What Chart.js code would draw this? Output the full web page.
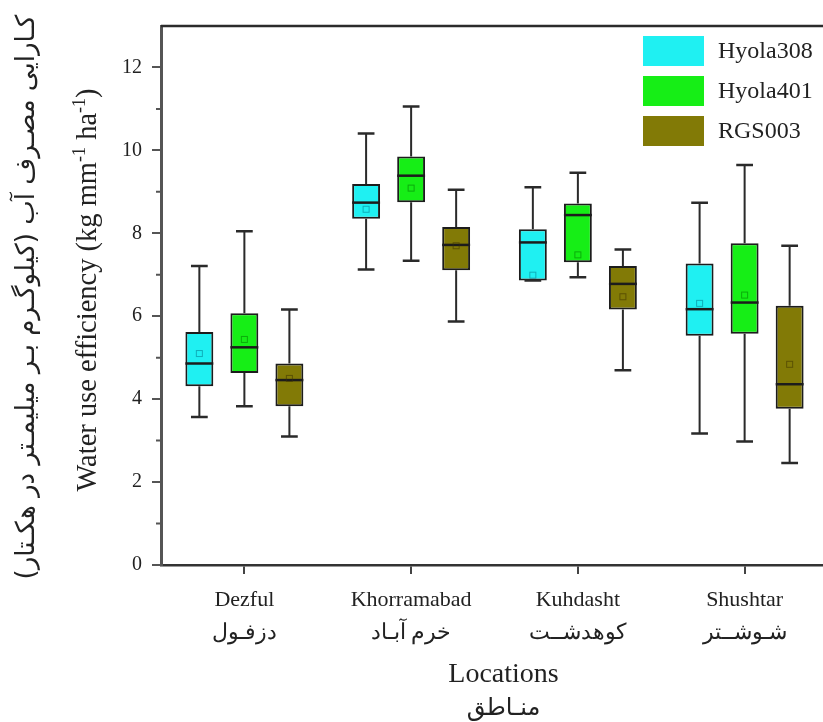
<!DOCTYPE html>
<html>
<head>
<meta charset="utf-8">
<script src="https://cdn.jsdelivr.net/npm/chart.js@4/dist/chart.umd.min.js"></script>
<style>
  html, body { margin: 0; padding: 0; background: #fff; overflow: hidden; }
  #wrap { position: relative; width: 828px; height: 722px; }
</style>
</head>
<body>
<div id="wrap"><canvas id="c"></canvas></div>
<script>
// ---------- data ----------
const categories = ['Dezful', 'Khorramabad', 'Kuhdasht', 'Shushtar'];
const categoriesFa = ['دزفـول', 'خرم آبـاد', 'کوهدشــت', 'شـوشــتر'];
const seriesNames = ['Hyola308', 'Hyola401', 'RGS003'];
const yTicks = [0, 2, 4, 6, 8, 10, 12];
const yMinorTicks = [1, 3, 5, 7, 9, 11];

const hyola308Min    = [3.57, 7.13, 6.86, 3.17];
const hyola308Q1     = [4.31, 8.35, 6.86, 5.53];
const hyola308Median = [4.86, 8.74, 7.78, 6.17];
const hyola308Q3     = [5.62, 9.19, 8.10, 7.27];
const hyola308Max    = [7.21, 10.41, 9.11, 8.74];
const hyola308Mean   = [5.10, 8.58, 6.99, 6.31];

const hyola401Min    = [3.83, 7.34, 6.94, 2.98];
const hyola401Q1     = [4.63, 8.75, 7.30, 5.58];
const hyola401Median = [5.25, 9.39, 8.44, 6.33];
const hyola401Q3     = [6.07, 9.85, 8.72, 7.76];
const hyola401Max    = [8.05, 11.06, 9.46, 9.65];
const hyola401Mean   = [5.44, 9.09, 7.48, 6.51];

const rgs003Min      = [3.10, 5.87, 4.70, 2.46];
const rgs003Q1       = [3.83, 7.11, 6.16, 3.77];
const rgs003Median   = [4.46, 7.72, 6.78, 4.36];
const rgs003Q3       = [4.86, 8.15, 7.21, 6.25];
const rgs003Max      = [6.16, 9.05, 7.61, 7.70];
const rgs003Mean     = [4.50, 7.70, 6.47, 4.84];

// ---------- styles ----------
const colors = ['#1ff0f2', '#16ee16', '#827a06'];
const meanColors = ['rgba(0,120,140,0.55)', 'rgba(0,120,0,0.55)', 'rgba(60,50,0,0.55)'];
const serif = '"Liberation Serif", "Times New Roman", serif';
const faFont = '"DejaVu Sans", sans-serif';

const stats = [
  { min: hyola308Min, median: hyola308Median, max: hyola308Max, mean: hyola308Mean },
  { min: hyola401Min, median: hyola401Median, max: hyola401Max, mean: hyola401Mean },
  { min: rgs003Min,   median: rgs003Median,   max: rgs003Max,   mean: rgs003Mean }
];
const q1s = [hyola308Q1, hyola401Q1, rgs003Q1];
const q3s = [hyola308Q3, hyola401Q3, rgs003Q3];

const datasets = seriesNames.map((name, k) => ({
  label: name,
  data: q1s[k].map((v, i) => [v, q3s[k][i]]),
  backgroundColor: colors[k],
  borderColor: '#1c1c1c',
  borderWidth: 2,
  borderSkipped: false,
  barPercentage: 0.62,
  categoryPercentage: 0.81
}));

// ---------- plugins ----------
const boxPlugin = {
  id: 'boxWhiskers',
  afterDatasetsDraw(chart) {
    const ctx = chart.ctx;
    const ys = chart.scales.y;
    chart.data.datasets.forEach((ds, k) => {
      const meta = chart.getDatasetMeta(k);
      const st = stats[k];
      meta.data.forEach((bar, i) => {
        const x = bar.x;
        const w = bar.width;
        const pMin = ys.getPixelForValue(st.min[i]);
        const pMax = ys.getPixelForValue(st.max[i]);
        const pQ1 = ys.getPixelForValue(q1s[k][i]);
        const pQ3 = ys.getPixelForValue(q3s[k][i]);
        const pMed = ys.getPixelForValue(st.median[i]);
        const pMean = ys.getPixelForValue(st.mean[i]);
        ctx.save();
        ctx.strokeStyle = '#2a2a2a';
        ctx.lineWidth = 2;
        ctx.beginPath();
        ctx.moveTo(x, pQ3); ctx.lineTo(x, pMax);
        ctx.moveTo(x, pQ1); ctx.lineTo(x, pMin);
        ctx.stroke();
        ctx.lineWidth = 2.5;
        const cw = w * 0.3;
        ctx.beginPath();
        ctx.moveTo(x - cw, pMax); ctx.lineTo(x + cw, pMax);
        ctx.moveTo(x - cw, pMin); ctx.lineTo(x + cw, pMin);
        ctx.stroke();
        ctx.strokeStyle = '#1c1c1c';
        ctx.lineWidth = 2.5;
        ctx.beginPath();
        ctx.moveTo(x - w / 2, pMed); ctx.lineTo(x + w / 2, pMed);
        ctx.stroke();
        ctx.strokeStyle = meanColors[k];
        ctx.lineWidth = 1;
        ctx.strokeRect(x - 3, pMean - 3, 6, 6);
        ctx.restore();
      });
    });
  }
};

function drawRich(ctx, runs, baseSize, fam) {
  let total = 0;
  runs.forEach(r => {
    ctx.font = (r.sup ? Math.round(baseSize * 0.62) : baseSize) + 'px ' + fam;
    r.w = ctx.measureText(r.t).width;
    total += r.w;
  });
  let x = -total / 2;
  runs.forEach(r => {
    ctx.font = (r.sup ? Math.round(baseSize * 0.62) : baseSize) + 'px ' + fam;
    ctx.fillText(r.t, x, r.sup ? -baseSize * 0.38 : 0);
    x += r.w;
  });
}

const decorPlugin = {
  id: 'decor',
  afterDraw(chart) {
    const ctx = chart.ctx;
    const a = chart.chartArea;
    const ys = chart.scales.y;
    ctx.save();
    // top frame line
    ctx.strokeStyle = '#2b2b2b';
    ctx.lineWidth = 2.5;
    ctx.beginPath();
    ctx.moveTo(a.left, a.top); ctx.lineTo(a.right, a.top);
    ctx.stroke();
    // minor ticks
    ctx.strokeStyle = '#555';
    ctx.lineWidth = 2;
    ctx.beginPath();
    yMinorTicks.forEach(v => {
      const p = ys.getPixelForValue(v);
      ctx.moveTo(a.left - 5, p); ctx.lineTo(a.left, p);
    });
    ctx.stroke();

    // legend
    const lx = a.right - 185;
    ctx.textAlign = 'left';
    ctx.textBaseline = 'middle';
    ctx.font = '24px ' + serif;
    seriesNames.forEach((name, k) => {
      const ty = a.top + 10 + k * 40;
      ctx.fillStyle = colors[k];
      ctx.fillRect(lx, ty, 61, 30);
      ctx.fillStyle = '#222';
      ctx.fillText(name, lx + 75, ty + 16);
    });

    // y axis titles
    ctx.fillStyle = '#222';
    ctx.save();
    ctx.translate(96, 290);
    ctx.rotate(-Math.PI / 2);
    ctx.textAlign = 'left';
    ctx.textBaseline = 'alphabetic';
    drawRich(ctx, [
      { t: 'Water use efficiency (kg mm' },
      { t: '-1', sup: true },
      { t: ' ha' },
      { t: '-1', sup: true },
      { t: ')' }
    ], 28.5, serif);
    ctx.restore();

    ctx.save();
    ctx.translate(27, 297);
    ctx.rotate(-Math.PI / 2);
    ctx.direction = 'rtl';
    ctx.textAlign = 'center';
    ctx.textBaseline = 'middle';
    ctx.font = '26px ' + faFont;
    ctx.fillText('کـارایی مصـرف آب (کیلوگـرم بـر میلیمـتر در هکـتار)', 0, 0);
    ctx.restore();

    // x axis titles
    const midX = (a.left + a.right) / 2 + 9;
    ctx.textAlign = 'center';
    ctx.textBaseline = 'alphabetic';
    ctx.font = '28px ' + serif;
    ctx.fillText('Locations', midX, 682);
    ctx.direction = 'rtl';
    ctx.textBaseline = 'middle';
    ctx.font = '24px ' + faFont;
    ctx.fillText('منـاطق', midX, 709);
    ctx.restore();
  }
};

const labels = categories.map((c, i) => [c, categoriesFa[i]]);

new Chart(document.getElementById('c'), {
  type: 'bar',
  data: { labels: labels, datasets: datasets },
  options: {
    responsive: true,
    maintainAspectRatio: false,
    animation: false,
    devicePixelRatio: 1,
    layout: { padding: { top: 26, left: 0, right: 0, bottom: 0 } },
    plugins: { legend: { display: false }, tooltip: { enabled: false } },
    scales: {
      x: {
        type: 'category',
        offset: true,
        grid: { display: true, offset: false, drawOnChartArea: false, drawTicks: true, tickLength: 9, color: '#444', lineWidth: 2 },
        border: { display: true, color: '#333', width: 2.5 },
        ticks: { color: '#222', padding: 10, maxRotation: 0, autoSkip: false,
                 font: { family: serif, size: 22, lineHeight: 1.5 } },
        afterFit(scale) { scale.height = 157; }
      },
      y: {
        type: 'linear',
        min: 0,
        max: 13,
        afterBuildTicks(scale) { scale.ticks = yTicks.map(v => ({ value: v })); },
        grid: { display: true, drawOnChartArea: false, drawTicks: true, tickLength: 9, color: '#555', lineWidth: 2 },
        border: { display: true, color: '#555', width: 3 },
        ticks: { color: '#222', padding: 10, font: { family: serif, size: 20 } },
        afterFit(scale) { scale.width = 161; }
      }
    }
  },
  plugins: [boxPlugin, decorPlugin]
});
</script>
</body>
</html>
